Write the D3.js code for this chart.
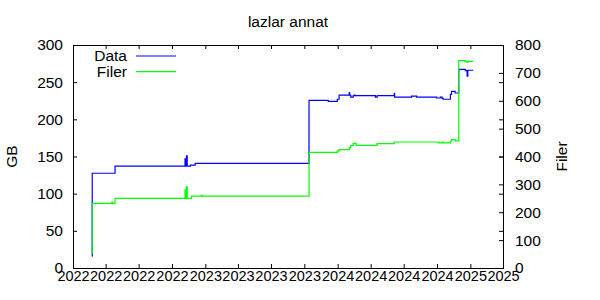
<!DOCTYPE html>
<html>
<head>
<meta charset="utf-8">
<script src="https://cdn.jsdelivr.net/npm/d3@7"></script>
<style>
  body { margin: 0; background: #fff; }
  text { font-family: "Liberation Sans", Arial, sans-serif; }
</style>
</head>
<body>
<div id="chart"></div>
<script>
// samples (date, GB used, number of files)
const dates = [
  "2022-02-22", "2022-02-23", "2022-04-18", "2022-04-20", "2022-04-27",
  "2022-11-06", "2022-11-08", "2022-11-10", "2022-11-12", "2022-11-21",
  "2022-11-24", "2022-12-04", "2022-12-22", "2022-12-24", "2023-10-14",
  "2023-12-06", "2023-12-31", "2024-01-05", "2024-02-02", "2024-02-03",
  "2024-02-06", "2024-02-13", "2024-02-16", "2024-02-18", "2024-02-21",
  "2024-04-14", "2024-04-19", "2024-06-05", "2024-06-06", "2024-07-23",
  "2024-08-06", "2024-09-30", "2024-10-05", "2024-10-10", "2024-10-15",
  "2024-10-18", "2024-11-07", "2024-11-10", "2024-11-20", "2024-11-30",
  "2024-12-18", "2024-12-23", "2024-12-25", "2025-01-09"
];
const gbValues = [
  16, 127.5, 127.5, 127.5, 137,
  147, 137, 151, 137, 138.5,
  138.5, 140.8, 140.8, 140.8, 225.6,
  224.2, 227, 232.7, 236, 232.7,
  230, 231.8, 232.7, 231.8, 231.8,
  230, 231.8, 235, 230, 231.3,
  230, 228.7, 228.7, 230, 228.3,
  227, 233.6, 237.7, 235.4, 267.3,
  265.5, 258, 266, 266
];
const fileValues = [
  52, 232, 236, 232, 250,
  280, 250, 292, 250, 250,
  258, 258, 261, 258, 415,
  415, 420, 424.5, 431.6, 431.6,
  438.8, 447, 447, 447, 440,
  440, 446, 452, 452, 452,
  452, 452, 449, 449, 452,
  449, 455.6, 460.4, 456, 743.7,
  741.5, 738, 741.5, 741.5
];

const gbTicks = [0, 50, 100, 150, 200, 250, 300];
const fileTicks = [0, 100, 200, 300, 400, 500, 600, 700, 800];
const xStart = "2022-01-01", xEnd = "2025-04-01";
const seriesNames = ["Data", "Filer"];
const seriesColors = ["#0000ff", "#00ff00"];
const chartTitle = "lazlar annat";

const parse = d3.timeParse("%Y-%m-%d");
const rows = dates.map((d, i) => ({ date: parse(d), gb: gbValues[i], files: fileValues[i] }));

const margin = { top: 45, right: 97, bottom: 32, left: 73 },
      width  = 600 - margin.left - margin.right,
      height = 300 - margin.top - margin.bottom;

const svg = d3.select("#chart")
  .append("svg")
  .attr("width", 600)
  .attr("height", 300)
  .append("g")
  .attr("transform", `translate(${margin.left},${margin.top})`);

const x = d3.scaleTime()
  .domain([parse(xStart), parse(xEnd)])
  .range([0, width]);

const yL = d3.scaleLinear().domain([0, 300]).range([height, 0]);
const yR = d3.scaleLinear().domain([0, 800]).range([height, 0]);

const fs = "15.5px";

// bottom axis
const xb = svg.append("g")
  .attr("transform", `translate(0,${height})`)
  .call(d3.axisBottom(x)
    .ticks(d3.timeMonth.every(3))
    .tickFormat(d3.timeFormat("%Y"))
    .tickSizeInner(-4).tickSizeOuter(0).tickPadding(3));

// top mirror
svg.append("g")
  .call(d3.axisTop(x)
    .ticks(d3.timeMonth.every(3))
    .tickFormat("")
    .tickSizeInner(-4).tickSizeOuter(0));

// left axis
const yl = svg.append("g")
  .call(d3.axisLeft(yL).tickValues(gbTicks)
    .tickSizeInner(-4).tickSizeOuter(0).tickPadding(10));

// right: mirrored GB ticks + file ticks
svg.append("g")
  .attr("transform", `translate(${width},0)`)
  .call(d3.axisRight(yL).tickValues(gbTicks).tickFormat("")
    .tickSizeInner(-4).tickSizeOuter(0));

const yr = svg.append("g")
  .attr("transform", `translate(${width},0)`)
  .call(d3.axisRight(yR).tickValues(fileTicks)
    .tickSizeInner(-4).tickSizeOuter(0).tickPadding(12));

svg.selectAll(".tick text")
  .style("font-size", fs)
  .attr("fill", "#000");
// year labels are packed tightly, keep them from running into each other
xb.selectAll(".tick text").style("font-size", "14.5px");
svg.selectAll(".domain").remove();

// frame
svg.append("rect")
  .attr("x", 0.5)
  .attr("y", 0.5)
  .attr("width", width)
  .attr("height", height)
  .attr("fill", "none")
  .attr("stroke", "#000")
  .attr("stroke-width", 1);

// lines
const lineGb = d3.line()
  .curve(d3.curveStepAfter)
  .x(d => x(d.date))
  .y(d => yL(d.gb));

const lineFiles = d3.line()
  .curve(d3.curveStepAfter)
  .x(d => x(d.date))
  .y(d => yR(d.files));

svg.append("path")
  .datum(rows)
  .attr("fill", "none")
  .attr("stroke", seriesColors[0])
  .attr("stroke-width", 1.2)
  .attr("d", lineGb);

svg.append("path")
  .datum(rows)
  .attr("fill", "none")
  .attr("stroke", seriesColors[1])
  .attr("stroke-width", 1.2)
  .attr("d", lineFiles);

// title
svg.append("text")
  .attr("x", width / 2)
  .attr("y", 27 - margin.top)
  .attr("text-anchor", "middle")
  .style("font-size", fs)
  .text(chartTitle);

// axis labels
svg.append("text")
  .attr("transform", `translate(${12 - margin.left + 5},${height / 2}) rotate(-90)`)
  .attr("text-anchor", "middle")
  .style("font-size", fs)
  .text("GB");

svg.append("text")
  .attr("transform", `translate(${width + 567 - 503},${height / 2}) rotate(-90)`)
  .attr("text-anchor", "middle")
  .style("font-size", fs)
  .text("Filer");

// legend
const legend = svg.append("g")
  .attr("transform", `translate(0,0)`);

seriesNames.forEach((name, i) => {
  const ly = 11 + i * 15.6;
  legend.append("text")
    .attr("x", 127 - margin.left)
    .attr("y", ly + 5)
    .attr("text-anchor", "end")
    .style("font-size", fs)
    .text(name);
  legend.append("line")
    .attr("x1", 136 - margin.left)
    .attr("x2", 176 - margin.left)
    .attr("y1", ly)
    .attr("y2", ly)
    .attr("stroke", seriesColors[i])
    .attr("stroke-width", 1.2);
});
</script>
</body>
</html>
